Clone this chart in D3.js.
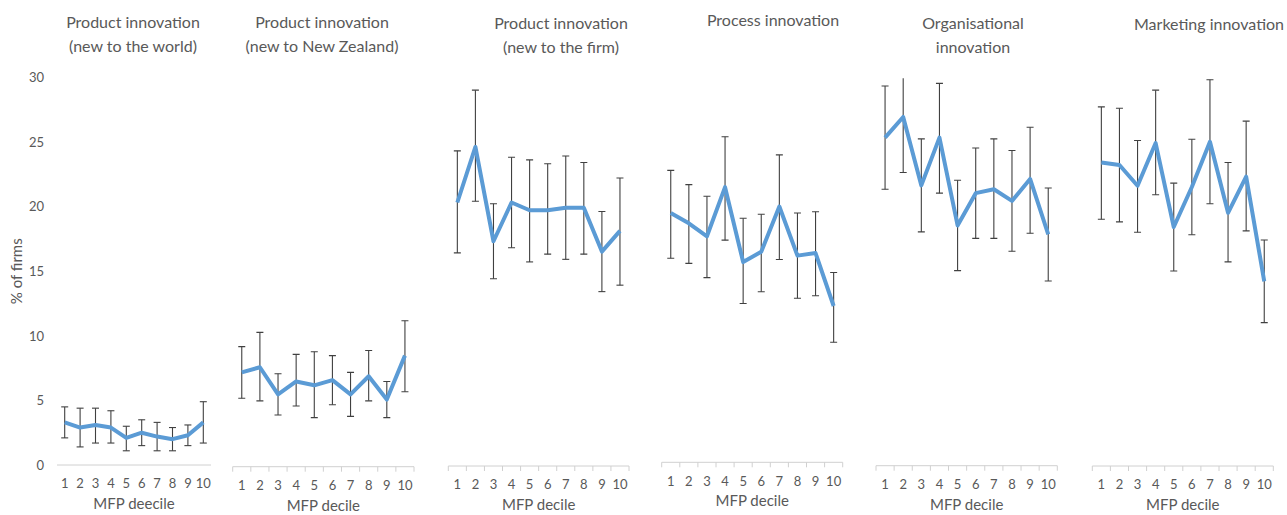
<!DOCTYPE html>
<html>
<head>
<meta charset="utf-8">
<script src="https://cdn.jsdelivr.net/npm/d3@7"></script>
<style>
  html, body { margin: 0; padding: 0; background: #ffffff; }
  svg { display: block; font-family: Lato, "Open Sans", sans-serif; }
</style>
</head>
<body>
<svg id="chart" width="1287" height="515"></svg>
<script>
// MFP deciles shared by every panel
const deciles = ["1", "2", "3", "4", "5", "6", "7", "8", "9", "10"];
const yTicks = [0, 5, 10, 15, 20, 25, 30];

// Share of firms (%) with 95% interval bounds, one set per innovation type
const worldMean  = [3.3, 2.9, 3.1, 2.9, 2.1, 2.5, 2.2, 2.0, 2.3, 3.3];
const worldUpper = [4.5, 4.4, 4.4, 4.2, 3.0, 3.5, 3.3, 2.9, 3.1, 4.9];
const worldLower = [2.1, 1.4, 1.7, 1.7, 1.1, 1.5, 1.1, 1.1, 1.5, 1.7];

const nzMean  = [7.3, 7.7, 5.6, 6.6, 6.3, 6.7, 5.6, 7.0, 5.2, 8.6];
const nzUpper = [9.3, 10.4, 7.2, 8.7, 8.9, 8.6, 7.3, 9.0, 6.6, 11.3];
const nzLower = [5.3, 5.1, 4.0, 4.7, 3.8, 4.8, 3.9, 5.1, 3.8, 5.8];

const firmMean  = [20.4, 24.7, 17.4, 20.4, 19.8, 19.8, 20.0, 20.0, 16.6, 18.2];
const firmUpper = [24.4, 29.1, 20.3, 23.9, 23.7, 23.4, 24.0, 23.5, 19.7, 22.3];
const firmLower = [16.5, 20.5, 14.5, 16.9, 15.8, 16.4, 16.0, 16.4, 13.5, 14.0];

const processMean  = [19.3, 18.5, 17.5, 21.3, 15.5, 16.3, 19.8, 16.0, 16.2, 12.1];
const processUpper = [22.6, 21.5, 20.6, 25.2, 18.9, 19.2, 23.8, 19.3, 19.4, 14.7];
const processLower = [15.8, 15.4, 14.3, 17.2, 12.3, 13.2, 15.7, 12.7, 12.9, 9.3];

const orgMean  = [25.4, 27.0, 21.7, 25.4, 18.6, 21.1, 21.4, 20.5, 22.2, 17.9];
const orgUpper = [29.4, 30.8, 25.3, 29.6, 22.1, 24.6, 25.3, 24.4, 26.2, 21.5];
const orgLower = [21.4, 22.7, 18.1, 21.1, 15.1, 17.6, 17.6, 16.6, 18.0, 14.3];

const marketMean  = [23.5, 23.3, 21.7, 25.0, 18.5, 21.6, 25.1, 19.6, 22.4, 14.3];
const marketUpper = [27.8, 27.7, 25.2, 29.1, 21.9, 25.3, 29.9, 23.5, 26.7, 17.5];
const marketLower = [19.1, 18.9, 18.1, 21.0, 15.1, 17.9, 20.3, 15.8, 18.2, 11.1];

const panelTitles = [
  ["Product innovation", "(new to the world)"],
  ["Product innovation", "(new to New Zealand)"],
  ["Product innovation", "(new to the firm)"],
  ["Process innovation"],
  ["Organisational", "innovation"],
  ["Marketing innovation"]
];
const axisTitles = ["MFP deecile", "MFP decile", "MFP decile", "MFP decile", "MFP decile", "MFP decile"];
const yAxisTitle = "% of firms";

const series = [
  { mean: worldMean,   upper: worldUpper,   lower: worldLower },
  { mean: nzMean,      upper: nzUpper,      lower: nzLower },
  { mean: firmMean,    upper: firmUpper,    lower: firmLower },
  { mean: processMean, upper: processUpper, lower: processLower },
  { mean: orgMean,     upper: orgUpper,     lower: orgLower },
  { mean: marketMean,  upper: marketUpper,  lower: marketLower }
];

// Placement of each small chart on the page
const layout = [
  { x0: 57,    x1: 211,    base: 465,   titleX: 133,  titleY: 28, ticks: false },
  { x0: 232.7, x1: 414,    base: 466.7, titleX: 322,  titleY: 28, ticks: true },
  { x0: 448.3, x1: 629,    base: 466,   titleX: 561,  titleY: 29, ticks: true },
  { x0: 661.7, x1: 842.7,  base: 462.3, titleX: 773,  titleY: 26, ticks: true },
  { x0: 876,   x1: 1057.3, base: 465.7, titleX: 973,  titleY: 29, ticks: true },
  { x0: 1092.3,x1: 1273.3, base: 466,   titleX: 1209, titleY: 30, ticks: true }
];
const plotHeight = 387.5;

const textColor = "#595959";
const lineColor = "#5B9BD5";
const barColor = "#404040";
const axisColor = "#d0d0d0";

const svg = d3.select("#chart");
const defs = svg.append("defs");

series.forEach((s, i) => {
  const L = layout[i];
  const x = d3.scaleBand().domain(deciles).range([L.x0, L.x1]);
  const y = d3.scaleLinear().domain([0, 30]).range([L.base, L.base - plotHeight]);
  const cx = d => x(d) + x.bandwidth() / 2;

  const g = svg.append("g").attr("class", "panel");

  defs.append("clipPath").attr("id", "clip" + i)
    .append("rect")
    .attr("x", L.x0 - 10).attr("y", y(30))
    .attr("width", L.x1 - L.x0 + 20).attr("height", L.base - y(30));

  // category axis
  const xAxis = d3.axisBottom(x).tickSize(0).tickPadding(14);
  const ax = g.append("g").attr("transform", `translate(0,${L.base})`).call(xAxis);
  ax.select(".domain").remove();
  ax.selectAll("text").attr("fill", textColor).attr("font-size", 13)
    .attr("font-family", "Lato, 'Open Sans', sans-serif");
  g.append("line")
    .attr("x1", L.x0).attr("x2", L.x1)
    .attr("y1", L.base).attr("y2", L.base)
    .attr("stroke", axisColor).attr("stroke-width", 1);
  if (L.ticks) {
    const bounds = deciles.map(d => x(d)).concat([L.x1]);
    g.selectAll(".cat-tick").data(bounds).join("line")
      .attr("class", "cat-tick")
      .attr("x1", d => d).attr("x2", d => d)
      .attr("y1", L.base).attr("y2", L.base + 5)
      .attr("stroke", axisColor).attr("stroke-width", 1);
  }

  // axis title below categories
  g.append("text")
    .attr("x", (L.x0 + L.x1) / 2).attr("y", L.base + 44)
    .attr("text-anchor", "middle").attr("fill", textColor)
    .attr("font-size", 15).text(axisTitles[i]);

  // panel title
  const t = g.append("text")
    .attr("x", L.titleX).attr("y", L.titleY)
    .attr("text-anchor", "middle").attr("fill", textColor)
    .attr("font-size", 16);
  panelTitles[i].forEach((line, k) => {
    t.append("tspan").attr("x", L.titleX).attr("dy", k === 0 ? 0 : 23.5).text(line);
  });

  const marks = g.append("g").attr("clip-path", `url(#clip${i})`);
  const pts = deciles.map((d, k) => ({ d, m: s.mean[k], hi: s.upper[k], lo: s.lower[k] }));

  // error bars
  marks.selectAll(".err").data(pts).join("line")
    .attr("class", "err")
    .attr("x1", p => cx(p.d)).attr("x2", p => cx(p.d))
    .attr("y1", p => y(p.hi)).attr("y2", p => y(p.lo))
    .attr("stroke", barColor).attr("stroke-width", 1.1);
  const caps = pts.flatMap(p => [p.hi, p.lo].filter(v => v <= 30).map(v => ({ d: p.d, v })));
  marks.selectAll(".cap").data(caps).join("line")
    .attr("class", "cap")
    .attr("x1", c => cx(c.d) - 3.5).attr("x2", c => cx(c.d) + 3.5)
    .attr("y1", c => y(c.v)).attr("y2", c => y(c.v))
    .attr("stroke", barColor).attr("stroke-width", 1.1);

  // mean line
  const line = d3.line().x(p => cx(p.d)).y(p => y(p.m));
  marks.append("path").datum(pts)
    .attr("d", line)
    .attr("fill", "none").attr("stroke", lineColor)
    .attr("stroke-width", 4).attr("stroke-linejoin", "round");

  // value axis on the first panel only
  if (i === 0) {
    const yAxis = d3.axisLeft(y).tickValues(yTicks).tickSize(0).tickPadding(0);
    const ay = g.append("g").attr("transform", "translate(44,0)").call(yAxis);
    ay.select(".domain").remove();
    ay.selectAll("text").attr("fill", textColor).attr("font-size", 13)
      .attr("font-family", "Lato, 'Open Sans', sans-serif");
    g.append("text")
      .attr("transform", `translate(22,${y(15)}) rotate(-90)`)
      .attr("text-anchor", "middle").attr("fill", textColor)
      .attr("font-size", 15).text(yAxisTitle);
  }
});
</script>
</body>
</html>
